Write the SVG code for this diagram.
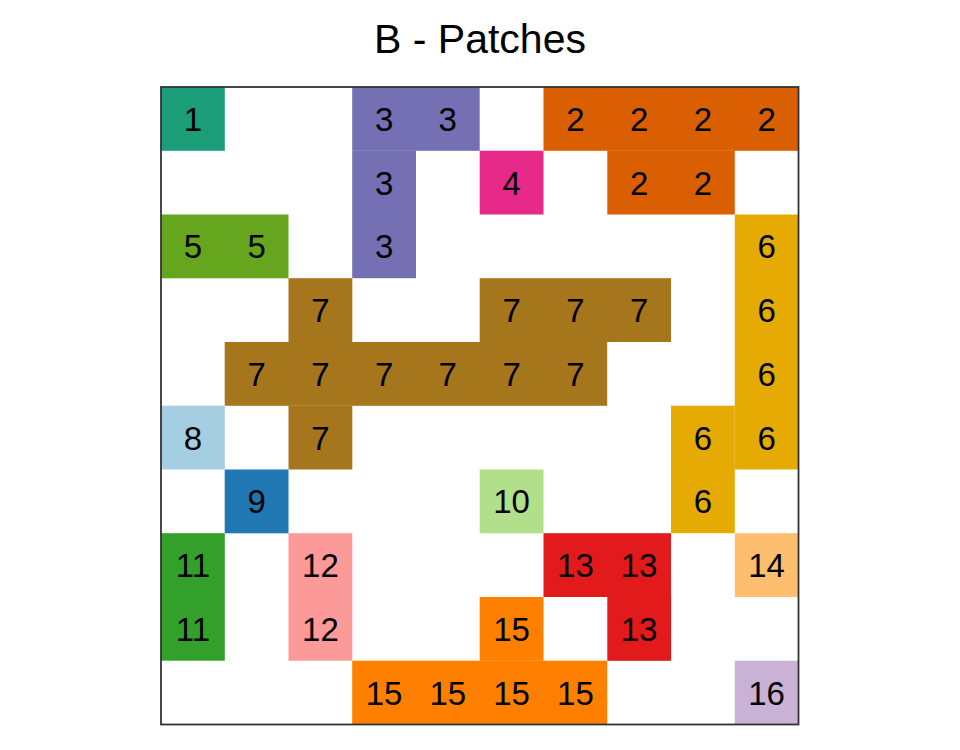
<svg xmlns="http://www.w3.org/2000/svg" width="960" height="750" viewBox="0 0 960 750">
<style>
text{font-family:"Liberation Sans",Arial,sans-serif;fill:#000}
.t{font-size:41px;text-anchor:middle}
.n{font-size:33px;text-anchor:middle}
.p1{fill:#1B9E77}.p2{fill:#D95F02}.p3{fill:#7570B3}.p4{fill:#E7298A}
.p5{fill:#66A61E}.p6{fill:#E6AB02}.p7{fill:#A6761D}.p8{fill:#A6CEE3}
.p9{fill:#1F78B4}.p10{fill:#B2DF8A}.p11{fill:#33A02C}.p12{fill:#FB9A99}
.p13{fill:#E31A1C}.p14{fill:#FDBF6F}.p15{fill:#FF7F00}.p16{fill:#CAB2D6}
</style>
<rect width="960" height="750" fill="#fff"/>
<text class="t" x="480" y="53">B - Patches</text>
<g id="cells">
<g id="p1"><rect class="p1" x="161" y="87" width="63.8" height="63.8"/><text class="n" x="192.9" y="130.9">1</text></g>
<g id="p3"><rect class="p3" x="352.2" y="87" width="127.5" height="63.8"/><rect class="p3" x="352.2" y="150.7" width="63.8" height="127.5"/>
<text class="n" x="384.1" y="130.9">3</text><text class="n" x="447.8" y="130.9">3</text><text class="n" x="384.1" y="194.7">3</text><text class="n" x="384.1" y="258.4">3</text></g>
<g id="p2"><rect class="p2" x="543.5" y="87" width="255" height="63.8"/><rect class="p2" x="607.3" y="150.7" width="127.5" height="63.8"/>
<text class="n" x="575.4" y="130.9">2</text><text class="n" x="639.1" y="130.9">2</text><text class="n" x="702.9" y="130.9">2</text><text class="n" x="766.6" y="130.9">2</text>
<text class="n" x="639.1" y="194.7">2</text><text class="n" x="702.9" y="194.7">2</text></g>
<g id="p4"><rect class="p4" x="479.7" y="150.7" width="63.8" height="63.8"/><text class="n" x="511.6" y="194.7">4</text></g>
<g id="p5"><rect class="p5" x="161" y="214.5" width="127.5" height="63.8"/><text class="n" x="192.9" y="258.4">5</text><text class="n" x="256.6" y="258.4">5</text></g>
<g id="p6"><rect class="p6" x="734.8" y="214.5" width="63.7" height="255"/><rect class="p6" x="671" y="405.7" width="63.8" height="127.5"/>
<text class="n" x="766.6" y="258.4">6</text><text class="n" x="766.6" y="322.2">6</text><text class="n" x="766.6" y="385.9">6</text><text class="n" x="766.6" y="449.7">6</text>
<text class="n" x="702.9" y="449.7">6</text><text class="n" x="702.9" y="513.4">6</text></g>
<g id="p7"><rect class="p7" x="288.5" y="278.2" width="63.8" height="63.8"/><rect class="p7" x="479.7" y="278.2" width="191.3" height="63.8"/>
<rect class="p7" x="224.7" y="342" width="382.5" height="63.8"/><rect class="p7" x="288.5" y="405.7" width="63.8" height="63.8"/>
<text class="n" x="320.4" y="322.2">7</text><text class="n" x="511.6" y="322.2">7</text><text class="n" x="575.4" y="322.2">7</text><text class="n" x="639.1" y="322.2">7</text>
<text class="n" x="256.6" y="385.9">7</text><text class="n" x="320.4" y="385.9">7</text><text class="n" x="384.1" y="385.9">7</text><text class="n" x="447.8" y="385.9">7</text><text class="n" x="511.6" y="385.9">7</text><text class="n" x="575.4" y="385.9">7</text>
<text class="n" x="320.4" y="449.7">7</text></g>
<g id="p8"><rect class="p8" x="161" y="405.7" width="63.8" height="63.8"/><text class="n" x="192.9" y="449.7">8</text></g>
<g id="p9"><rect class="p9" x="224.7" y="469.5" width="63.8" height="63.8"/><text class="n" x="256.6" y="513.4">9</text></g>
<g id="p10"><rect class="p10" x="479.7" y="469.5" width="63.8" height="63.8"/><text class="n" x="511.6" y="513.4">10</text></g>
<g id="p11"><rect class="p11" x="161" y="533.2" width="63.8" height="127.5"/><text class="n" x="192.9" y="577.2">11</text><text class="n" x="192.9" y="640.9">11</text></g>
<g id="p12"><rect class="p12" x="288.5" y="533.2" width="63.8" height="127.5"/><text class="n" x="320.4" y="577.2">12</text><text class="n" x="320.4" y="640.9">12</text></g>
<g id="p13"><rect class="p13" x="543.5" y="533.2" width="127.5" height="63.8"/><rect class="p13" x="607.3" y="597" width="63.8" height="63.8"/>
<text class="n" x="575.4" y="577.2">13</text><text class="n" x="639.1" y="577.2">13</text><text class="n" x="639.1" y="640.9">13</text></g>
<g id="p14"><rect class="p14" x="734.8" y="533.2" width="63.7" height="63.8"/><text class="n" x="766.6" y="577.2">14</text></g>
<g id="p15"><rect class="p15" x="479.7" y="597" width="63.8" height="63.8"/><rect class="p15" x="352.2" y="660.7" width="255" height="63.8"/>
<text class="n" x="511.6" y="640.9">15</text><text class="n" x="384.1" y="704.7">15</text><text class="n" x="447.8" y="704.7">15</text><text class="n" x="511.6" y="704.7">15</text><text class="n" x="575.4" y="704.7">15</text></g>
<g id="p16"><rect class="p16" x="734.8" y="660.7" width="63.7" height="63.8"/><text class="n" x="766.6" y="704.7">16</text></g>
</g>
<g id="connectors"></g>
<rect id="frame" x="161" y="87" width="637.5" height="637.5" fill="none" stroke="#333" stroke-width="1.8"/>
</svg>
